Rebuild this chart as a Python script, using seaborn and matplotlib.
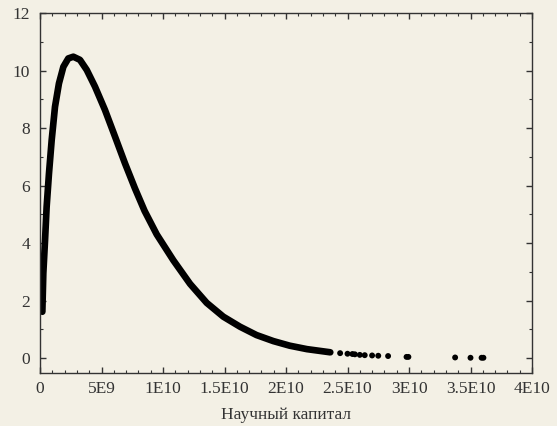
import matplotlib
matplotlib.use("Agg")
import matplotlib.pyplot as plt
import seaborn as sns
import pandas as pd
from matplotlib.ticker import MultipleLocator, FixedLocator

# Main curve: scientific capital vs value
curve_x = [0.19e9, 0.27e9, 0.41e9, 0.54e9, 0.73e9, 0.95e9, 1.22e9, 1.54e9, 1.90e9,
           2.30e9, 2.71e9, 3.25e9, 3.80e9, 4.47e9, 5.28e9, 6.10e9, 6.91e9, 7.72e9,
           8.50e9, 9.49e9, 10.84e9, 12.2e9, 13.55e9, 14.9e9, 16.26e9, 17.6e9,
           18.97e9, 20.3e9, 21.7e9, 23.6e9]
curve_y = [1.61, 2.95, 4.10, 5.26, 6.42, 7.58, 8.74, 9.55, 10.13,
           10.42, 10.48, 10.37, 10.02, 9.44, 8.63, 7.70, 6.77, 5.90,
           5.12, 4.30, 3.40, 2.58, 1.92, 1.44, 1.09, 0.80,
           0.59, 0.43, 0.31, 0.20]

# Sparse tail points
tail_x = [24.4e9, 25.0e9, 25.4e9, 25.6e9, 26.0e9, 26.4e9, 27.0e9, 27.5e9, 28.3e9,
          29.8e9, 29.95e9, 33.75e9, 35.0e9, 35.9e9, 36.05e9]
tail_y = [0.17, 0.15, 0.14, 0.13, 0.11, 0.10, 0.09, 0.08, 0.07,
          0.04, 0.04, 0.02, 0.01, 0.01, 0.01]

x_ticks = [0, 5e9, 1e10, 1.5e10, 2e10, 2.5e10, 3e10, 3.5e10, 4e10]
x_tick_labels = ["0", "5E9", "1E10", "1.5E10", "2E10", "2.5E10", "3E10", "3.5E10", "4E10"]
y_ticks = [0, 2, 4, 6, 8, 10, 12]
x_label = "Научный капитал"

bg = "#f3f0e5"
ink = "#333333"

sns.set_theme(style="ticks")
plt.rcParams["font.family"] = ["Liberation Serif", "DejaVu Serif"]

fig = plt.figure(figsize=(5.57, 4.26), dpi=100, facecolor=bg)
ax = fig.add_axes([40/557, 1-373/426, (532-40)/557, (373-13)/426])
ax.set_facecolor(bg)

df_curve = pd.DataFrame({"x": curve_x, "y": curve_y})
df_tail = pd.DataFrame({"x": tail_x, "y": tail_y})

sns.lineplot(data=df_curve, x="x", y="y", ax=ax, color="black", linewidth=4.8,
             sort=False, solid_capstyle="round", solid_joinstyle="round")
sns.scatterplot(data=df_tail, x="x", y="y", ax=ax, color="black", s=18,
                edgecolor="none", linewidth=0)

ax.set_xlim(0, 4e10)
ax.set_ylim(-0.52, 12)
ax.xaxis.set_major_locator(FixedLocator(x_ticks))
ax.set_xticklabels(x_tick_labels)
ax.xaxis.set_minor_locator(MultipleLocator(1e9))
ax.yaxis.set_major_locator(FixedLocator(y_ticks))
ax.set_yticklabels([str(v) for v in y_ticks])
ax.yaxis.set_minor_locator(MultipleLocator(1))

ax.tick_params(which="both", direction="in", top=True, right=True,
               color=ink, labelcolor=ink, labelsize=12.5)
ax.tick_params(which="major", length=4, width=1)
ax.tick_params(which="minor", length=2.5, width=0.8)
ax.tick_params(axis="y", pad=7)
ax.tick_params(axis="x", pad=6)

for s in ax.spines.values():
    s.set_color(ink)
    s.set_linewidth(1.0)
    s.set_visible(True)

ax.set_xlabel(x_label, fontsize=12.5, color=ink, labelpad=7)
ax.set_ylabel("")

fig.savefig("out.png", dpi=100, facecolor=bg)
